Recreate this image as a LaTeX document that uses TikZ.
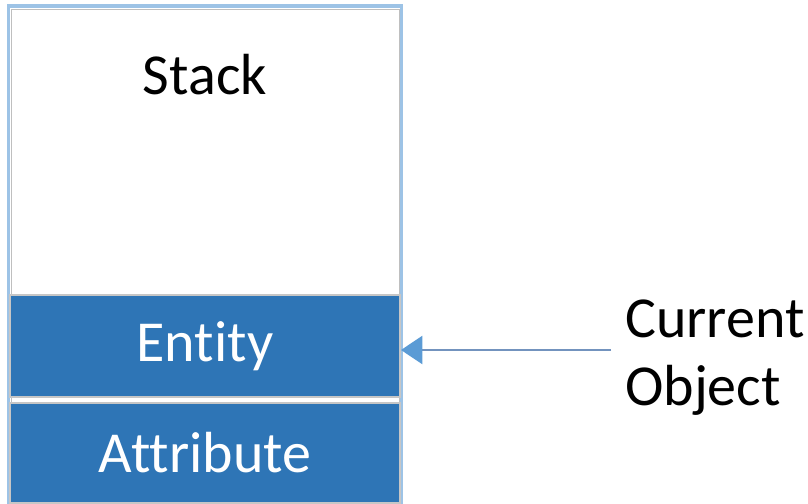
\documentclass[tikz,border=0pt]{standalone}
\usepackage{fontspec}
\setmainfont[Ligatures=NoCommon]{Carlito}
\usetikzlibrary{arrows.meta}
\definecolor{boxblue}{HTML}{2E75B6}
\definecolor{edgeblue}{HTML}{9DC3E6}
\definecolor{arrowline}{HTML}{7393BE}
\definecolor{arrowhead}{HTML}{5B9BD5}
\tikzset{
  px/.style={x=0.75pt,y=-0.75pt},
  fillbox/.style={rectangle,draw=gray!45,line width=0.8pt,fill=boxblue,inner sep=0pt,text=white,font=\fontsize{43.5}{51}\selectfont},
  label/.style={inner sep=0pt,font=\fontsize{43.5}{51}\selectfont},
}
\begin{document}
\begin{tikzpicture}[px]
\useasboundingbox (0,0) rectangle (808,504);
% outer stack frame
\node[rectangle,draw=edgeblue,line width=2.4pt,minimum width=393*0.75pt,minimum height=496*0.75pt,inner sep=0pt] (stack) at (205,254) {};
\draw[gray!50,line width=0.6pt] (11,9) rectangle (399,500);
\node[label] (stacklbl) at (205,75) {Stack};
\node[fillbox,minimum width=390*0.75pt,minimum height=102*0.75pt] (entity) at (205,346) {Entity};
\node[fillbox,minimum width=390*0.75pt,minimum height=100*0.75pt] (attr) at (205,453) {Attribute};
\node[label,anchor=west,align=left] (cur) at (625,358) {Current\\Object};
\coordinate (tail) at (611,350);
\draw[arrowline,line width=1.8pt,-{Triangle[length=16pt,width=21pt,fill=arrowhead,color=arrowhead]}] (tail) -- (401,350);
\end{tikzpicture}
\end{document}
